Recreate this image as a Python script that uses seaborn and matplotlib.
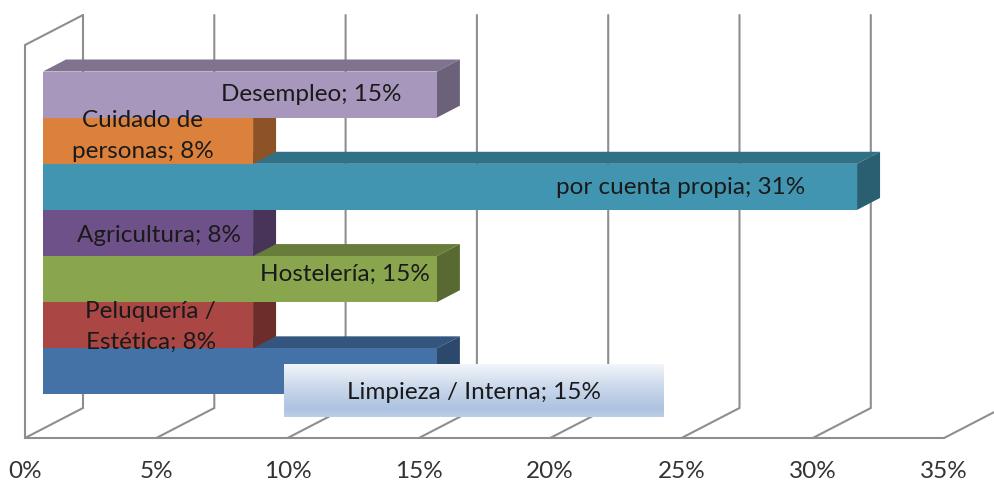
import matplotlib
matplotlib.use("Agg")
import matplotlib.pyplot as plt
import numpy as np
import seaborn as sns
from matplotlib.colors import LinearSegmentedColormap, to_rgb
from matplotlib.patches import Polygon

categories = ["Desempleo", "Cuidado de\npersonas", "por cuenta propia", "Agricultura",
              "Hostelería", "Peluquería /\nEstética", "Limpieza / Interna"]
values = [15, 8, 31, 8, 15, 8, 15]
colors = ["#A797BC", "#DC813B", "#4195B0", "#6F5189", "#89A54E", "#AA4643", "#4471A6"]
ticks = [0, 5, 10, 15, 20, 25, 30, 35]
tick_labels = ["0%", "5%", "10%", "15%", "20%", "25%", "30%", "35%"]

# where each label sits: x in percent, y as shift from the bar centre
label_x = [10.2, 3.8, 24.3, 4.4, 11.5, 4.1, 16.4]
label_dy = [0.0, -0.1, 0.02, 0.05, -0.11, 0.03, 0.45]

W, H = 995, 482
X0, PER_PCT = 43.0, 26.26    # pixel of 0% on the bar plane, pixels per percent
Y0, PER_BAR = 71.5, 46.14    # pixel of the top bar edge, pixels per bar


def dx(px):
    return px / PER_PCT


def dy(px):
    return px / PER_BAR


def xd(px):
    return (px - X0) / PER_PCT


def yd(px):
    return (px - Y0) / PER_BAR - 0.5


def shade(color, k):
    return tuple(c * k for c in to_rgb(color))


sns.set_theme(style="white")
plt.rcParams["font.family"] = ["Lato", "DejaVu Sans"]

fig = plt.figure(figsize=(W / 100, H / 100), dpi=100)
ax = fig.add_axes([0, 0, 1, 1])

sns.barplot(x=values, y=categories, hue=categories, palette=colors, legend=False,
            width=1, saturation=1, linewidth=0, ax=ax, zorder=5)

grid = "#8E8E8E"
floor_front, floor_back, wall_top = yd(438), yd(408), yd(15)
front_shift, back_shift = dx(-18), dx(40)

# walls and floor
for t, lab in zip(ticks, tick_labels):
    fx, bx = t + front_shift, t + back_shift
    ax.plot([fx, bx, bx], [floor_front, floor_back, wall_top], color=grid, lw=1.5,
            zorder=1, solid_joinstyle="miter")
    ax.text(fx, yd(472), lab, ha="center", va="center", fontsize=17.5, color="#333333")
ax.plot([ticks[0] + back_shift, ticks[0] + front_shift, ticks[0] + front_shift,
         ticks[-1] + front_shift],
        [wall_top, yd(45), floor_front, floor_front], color=grid, lw=1.5, zorder=1,
        solid_joinstyle="miter")

# 3d top and side of each bar
ox, oy = dx(23), dy(-12)
for i, (v, c) in enumerate(zip(values, colors)):
    top = [(0, i - 0.5), (v, i - 0.5), (v + ox, i - 0.5 + oy), (ox, i - 0.5 + oy)]
    side = [(v, i - 0.5), (v + ox, i - 0.5 + oy), (v + ox, i + 0.5 + oy), (v, i + 0.5)]
    ax.add_patch(Polygon(top, fc=shade(c, 0.76), ec="none", zorder=3))
    ax.add_patch(Polygon(side, fc=shade(c, 0.64), ec="none", zorder=4))

# gradient box behind the Limpieza label
cmap = LinearSegmentedColormap.from_list(
    "box", [(0, "#F2F5FA"), (0.45, "#C9D7EA"), (0.85, "#ADC3E0"), (1, "#BCCEE6")])
ax.imshow(np.linspace(0, 1, 64).reshape(-1, 1), cmap=cmap, aspect="auto", zorder=6,
          extent=[xd(284), xd(664), yd(417), yd(364)], origin="upper")

for i, (cat, v) in enumerate(zip(categories, values)):
    ax.text(label_x[i], i + label_dy[i], f"{cat}; {v}%", ha="center", va="center",
            fontsize=17.5, color="#1A1A1A", linespacing=1.6, zorder=7)

ax.set_xlim(xd(0), xd(W))
ax.set_ylim(yd(H), yd(0))
ax.set_axis_off()

fig.savefig("out.png", dpi=100)
